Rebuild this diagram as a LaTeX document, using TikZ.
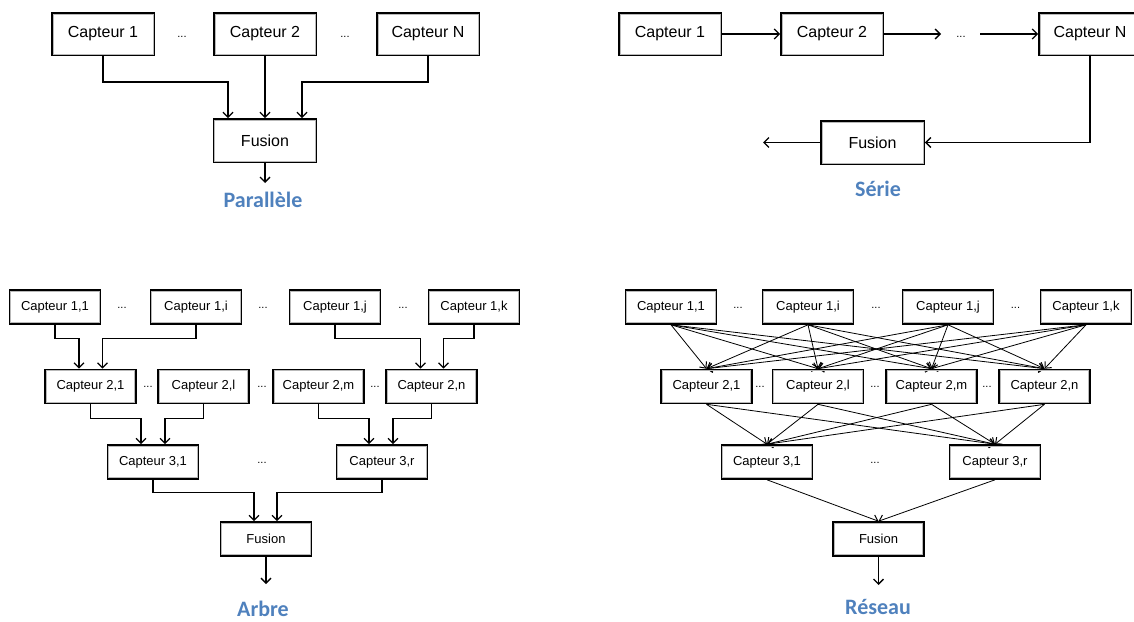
\documentclass[tikz,border=0pt]{standalone}
\usepackage{fontspec}
\setmainfont{Liberation Sans}
\newfontfamily\labfont{Carlito}
\usetikzlibrary{arrows.meta,calc}
\definecolor{labblue}{HTML}{4F81BD}
\begin{document}
\begin{tikzpicture}[x=1pt,y=-1pt,
  boxbase/.style={draw, fill=white, inner sep=0pt},
  big/.style={boxbase, line width=1.8pt, minimum width=102pt, minimum height=42pt,
    font=\fontsize{16}{18}\selectfont},
  small/.style={boxbase, line width=1.6pt, minimum width=91pt, minimum height=34pt,
    font=\fontsize{13}{15}\selectfont},
  inner/.style={draw=gray!55, line width=0.9pt},
  arr/.style={line width=1.3pt, -{Straight Barb[length=5pt,width=10pt,line width=1.3pt]}},
  net/.style={line width=0.8pt, -{Straight Barb[length=5pt,width=9pt,line width=1pt]}},
  dotsl/.style={font=\fontsize{11}{12}\selectfont, inner sep=0pt},
  lab/.style={font=\labfont\bfseries\fontsize{22}{24}\selectfont, text=labblue, inner sep=0pt}
]
\useasboundingbox (0,0) rectangle (1134,621);
\clip (0,0) rectangle (1134,621);

% ---------------- Parallele ----------------
\node[big] (P1) at (103,34) {Capteur 1};
\node[big] (P2) at (265,34) {Capteur 2};
\node[big] (PN) at (428,34) {Capteur N};
\node[dotsl] (Pd1) at (182,37) {...};
\node[dotsl] (Pd2) at (345,37) {...};
\node[big, minimum width=103pt, minimum height=43pt] (PF) at (265,140.5) {Fusion};
\coordinate (Pout) at (265,183);
\draw[arr] (P1.south) -- ++(0,26) -| ([xshift=-37pt]PF.north);
\draw[arr] (P2.south) -- (PF.north);
\draw[arr] (PN.south) -- ++(0,26) -| ([xshift=37pt]PF.north);
\draw[arr] (PF.south) -- (Pout);
\node[lab] (Plab) at (263,200) {Parallèle};

% ---------------- Serie ----------------
\node[big] (S1) at (670,34) {Capteur 1};
\node[big] (S2) at (832,34) {Capteur 2};
\node[big] (SN) at (1090,34) {Capteur N};
\coordinate (Sa) at (941,34);
\coordinate (Sb) at (980,34);
\node[dotsl] (Sd) at (961,37) {...};
\node[big, minimum width=103pt, minimum height=43pt] (SF) at (872.5,142.5) {Fusion};
\coordinate (Sout) at (763,142.5);
\draw[arr] (S1.east) -- (S2.west);
\draw[arr] (S2.east) -- (Sa);
\draw[arr] (Sb) -- (SN.west);
\draw[arr] (SN.south) |- (SF.east);
\draw[arr] (SF.west) -- (Sout);
\node[lab] (Slab) at (878,189) {Série};

% ---------------- Arbre ----------------
\node[small] (A11) at (55,307) {Capteur 1,1};
\node[small] (A1i) at (196,307) {Capteur 1,i};
\node[small] (A1j) at (335,307) {Capteur 1,j};
\node[small] (A1k) at (474,307) {Capteur 1,k};
\node[dotsl] (Ad1) at (122,308) {...};
\node[dotsl] (Ad2) at (263,308) {...};
\node[dotsl] (Ad3) at (403,308) {...};
\node[small] (A21) at (90.5,386.5) {Capteur 2,1};
\node[small] (A2l) at (203.5,386.5) {Capteur 2,l};
\node[small] (A2m) at (318.5,386.5) {Capteur 2,m};
\node[small] (A2n) at (431.5,386.5) {Capteur 2,n};
\node[dotsl] (Ad4) at (148,387) {...};
\node[dotsl] (Ad5) at (262,387) {...};
\node[dotsl] (Ad6) at (375,387) {...};
\node[small] (A31) at (153,462) {Capteur 3,1};
\node[small] (A3r) at (382,462) {Capteur 3,r};
\node[dotsl] (Ad7) at (262,463) {...};
\node[small] (AF) at (266,539) {Fusion};
\coordinate (Aout) at (266,584);
\draw[arr] (A11.south) -- ++(0,14) -| ([xshift=-11.5pt]A21.north);
\draw[arr] (A1i.south) -- ++(0,14) -| ([xshift=12pt]A21.north);
\draw[arr] (A1j.south) -- ++(0,14) -| ([xshift=-11pt]A2n.north);
\draw[arr] (A1k.south) -- ++(0,14) -| ([xshift=12pt]A2n.north);
\draw[arr] (A21.south) -- ++(0,14) -| ([xshift=-12pt]A31.north);
\draw[arr] (A2l.south) -- ++(0,14) -| ([xshift=12pt]A31.north);
\draw[arr] (A2m.south) -- ++(0,14) -| ([xshift=-13pt]A3r.north);
\draw[arr] (A2n.south) -- ++(0,14) -| ([xshift=11pt]A3r.north);
\draw[arr] (A31.south) -- ++(0,13) -| ([xshift=-12pt]AF.north);
\draw[arr] (A3r.south) -- ++(0,13) -| ([xshift=11pt]AF.north);
\draw[arr] (AF.south) -- (Aout);
\node[lab] (Alab) at (263,609) {Arbre};

% ---------------- Reseau ----------------
\node[small] (R11) at (671,307) {Capteur 1,1};
\node[small] (R1i) at (808,307) {Capteur 1,i};
\node[small] (R1j) at (948,307) {Capteur 1,j};
\node[small] (R1k) at (1086,307) {Capteur 1,k};
\node[dotsl] (Rd1) at (738,308) {...};
\node[dotsl] (Rd2) at (876,308) {...};
\node[dotsl] (Rd3) at (1015.5,308) {...};
\node[small] (R21) at (706.5,386.5) {Capteur 2,1};
\node[small] (R2l) at (818,386.5) {Capteur 2,l};
\node[small] (R2m) at (931.5,386.5) {Capteur 2,m};
\node[small] (R2n) at (1044.5,386.5) {Capteur 2,n};
\node[dotsl] (Rd4) at (760,387) {...};
\node[dotsl] (Rd5) at (875,387) {...};
\node[dotsl] (Rd6) at (987,387) {...};
\node[small] (R31) at (767,462) {Capteur 3,1};
\node[small] (R3r) at (995,462) {Capteur 3,r};
\node[dotsl] (Rd7) at (875,463) {...};
\node[small] (RF) at (878.5,539) {Fusion};
\coordinate (Rout) at (878.5,585);
\foreach \a in {R11,R1i,R1j,R1k}
  \foreach \b in {R21,R2l,R2m,R2n}
    \draw[net] (\a.south) -- (\b.north);
\foreach \a in {R21,R2l,R2m,R2n}
  \foreach \b in {R31,R3r}
    \draw[net] (\a.south) -- (\b.north);
\draw[net] (R31.south) -- (RF.north);
\draw[net] (R3r.south) -- (RF.north);
\draw[arr] (RF.south) -- (Rout);
\node[lab] (Rlab) at (878,607) {Réseau};

% inner grey edge of every box (bevel look)
\foreach \n in {P1,P2,PN,PF,S1,S2,SN,SF,
                A11,A1i,A1j,A1k,A21,A2l,A2m,A2n,A31,A3r,AF,
                R11,R1i,R1j,R1k,R21,R2l,R2m,R2n,R31,R3r,RF}
  \draw[inner] ([shift={(1.9pt,-1.9pt)}]\n.north west) rectangle ([shift={(-1.9pt,1.9pt)}]\n.south east);
\end{tikzpicture}
\end{document}
